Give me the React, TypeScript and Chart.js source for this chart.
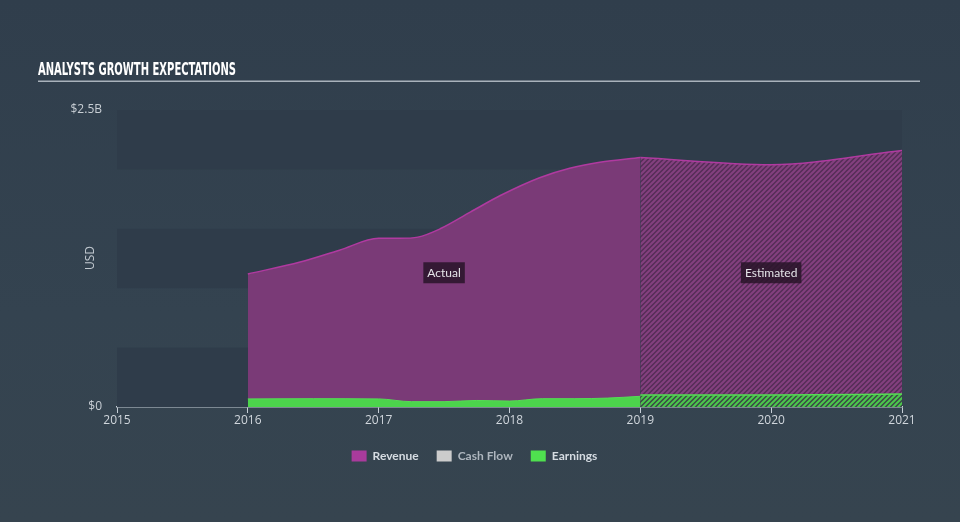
import React, { useEffect, useRef } from 'react';
import { Chart, registerables } from 'chart.js';

Chart.register(...registerables);

// ---- data (values in billions USD) ----
const revenueActualYears = [2016, 2016.4, 2016.7, 2017, 2017.16, 2017.3, 2017.47, 2017.7, 2017.93, 2018.23, 2018.46, 2018.69, 2019];
const revenueActual = [1.12, 1.22, 1.32, 1.42, 1.42, 1.43, 1.5, 1.64, 1.78, 1.93, 2.01, 2.06, 2.1];
const revenueEstYears = [2019, 2020, 2021];
const revenueEst = [2.1, 2.04, 2.16];

const earningsActualYears = [2016, 2016.5, 2017, 2017.25, 2017.5, 2017.75, 2018, 2018.25, 2018.5, 2018.75, 2019];
const earningsActual = [0.068, 0.07, 0.068, 0.045, 0.045, 0.055, 0.05, 0.07, 0.07, 0.075, 0.09];
const earningsEstYears = [2019, 2020, 2021];
const earningsEst = [0.1, 0.1, 0.11];

const xMin = 2015;
const xMax = 2021;
const yTickValues = [0, 2.5];
const yTickLabels = ['$0', '$2.5B'];
const legendLabels = ['Revenue', 'Cash Flow', 'Earnings'];
const legendColors = ['#a93b9c', '#cccccc', '#4fe04f'];
const legendTextColors = ['#d6dce2', '#aeb6be', '#d6dce2'];
const regionLabels = ['Actual', 'Estimated'];
const regionLabelX = [2017.5, 2020];
const regionLabelY = 1.13;
const titleText = 'ANALYSTS GROWTH EXPECTATIONS';
const yAxisTitle = 'USD';

const B = 1e9;
const pts = (xs: number[], ys: number[]) => xs.map((x, i) => ({ x, y: ys[i] * B }));

function makeHatch(base: string, stripe: string, size = 5, width = 2) {
  const c = document.createElement('canvas');
  c.width = size;
  c.height = size;
  const g = c.getContext('2d')!;
  g.fillStyle = base;
  g.fillRect(0, 0, size, size);
  g.strokeStyle = stripe;
  g.lineWidth = width;
  g.beginPath();
  g.moveTo(-1, size + 1);
  g.lineTo(size + 1, -1);
  g.moveTo(-1, 1);
  g.lineTo(1, -1);
  g.moveTo(size - 1, size + 1);
  g.lineTo(size + 1, size - 1);
  g.stroke();
  return g.createPattern(c, 'repeat')!;
}

const bandsPlugin = {
  id: 'bands',
  afterLayout(chart: any) {
    // centre the legend on the page rather than on the padded layout
    const lg = chart.legend;
    if (lg) {
      lg.left += 23.5;
      lg.right += 23.5;
    }
  },
  beforeDatasetsDraw(chart: any) {
    const { ctx, chartArea, scales } = chart;
    const y = scales.y;
    ctx.save();
    ctx.fillStyle = '#2f3c4a';
    for (let v = 0; v < 2.5; v += 1) {
      const top = y.getPixelForValue((v + 0.5) * B);
      const bot = y.getPixelForValue(v * B);
      ctx.fillRect(chartArea.left, top, chartArea.right - chartArea.left, bot - top);
    }
    ctx.restore();
  },
};

const overlayPlugin = {
  id: 'overlay',
  afterDatasetsDraw(chart: any) {
    const { ctx, scales } = chart;
    ctx.save();
    ctx.font = '12px "Lato"';
    ctx.textAlign = 'center';
    ctx.textBaseline = 'middle';
    regionLabels.forEach((t, i) => {
      const cx = scales.x.getPixelForValue(regionLabelX[i]);
      const cy = scales.y.getPixelForValue(regionLabelY * B);
      const w = ctx.measureText(t).width + 8;
      ctx.fillStyle = 'rgba(40,20,40,0.85)';
      ctx.fillRect(cx - w / 2, cy - 10.5, w, 21);
      ctx.fillStyle = '#e4e4e8';
      ctx.fillText(t, cx, cy + 0.5);
    });
    ctx.restore();
  },
  afterDraw(chart: any) {
    const { ctx } = chart;
    ctx.save();
    // title
    ctx.font = 'bold 18px "DejaVu Sans Condensed", "DejaVu Sans"';
    ctx.textAlign = 'left';
    ctx.textBaseline = 'alphabetic';
    const w = ctx.measureText(titleText).width;
    ctx.translate(38, 75);
    ctx.scale(198 / w, 1);
    ctx.fillStyle = '#ffffff';
    ctx.fillText(titleText, 0, 0);
    ctx.restore();
    ctx.save();
    ctx.fillStyle = '#a9b2bb';
    ctx.fillRect(38, 80.5, 882, 1.5);
    // y axis title
    ctx.translate(91, 258);
    ctx.rotate(-Math.PI / 2);
    ctx.font = '12px "Open Sans"';
    ctx.fillStyle = '#c3cad1';
    ctx.textAlign = 'center';
    ctx.textBaseline = 'middle';
    ctx.fillText(yAxisTitle, 0, 0);
    ctx.restore();
  },
};

export default function App() {
  const ref = useRef<HTMLCanvasElement>(null);
  useEffect(() => {
    const canvas = ref.current!;
    const revHatch = makeHatch('#552d57', '#84407f', 5, 2);
    const earnHatch = makeHatch('#3a4946', '#4cc84c', 5, 2);
    const chart = new Chart(canvas, {
      type: 'line',
      data: {
        datasets: [
          {
            label: 'Earnings actual',
            data: pts(earningsActualYears, earningsActual),
            borderColor: '#55dd55',
            borderWidth: 1,
            backgroundColor: '#4cd44c',
            fill: 'origin',
            pointRadius: 0,
            cubicInterpolationMode: 'monotone',
          },
          {
            label: 'Earnings estimated',
            data: pts(earningsEstYears, earningsEst),
            borderColor: '#55dd55',
            borderWidth: 1.5,
            backgroundColor: earnHatch,
            fill: 'origin',
            pointRadius: 0,
            cubicInterpolationMode: 'monotone',
          },
          {
            label: 'Revenue actual',
            data: pts(revenueActualYears, revenueActual),
            borderColor: '#b03aa0',
            borderWidth: 1.5,
            backgroundColor: '#7a3a77',
            fill: 'origin',
            pointRadius: 0,
            cubicInterpolationMode: 'monotone',
          },
          {
            label: 'Revenue estimated',
            data: pts(revenueEstYears, revenueEst),
            borderColor: '#b03aa0',
            borderWidth: 1.5,
            backgroundColor: revHatch,
            fill: 'origin',
            pointRadius: 0,
            cubicInterpolationMode: 'monotone',
          },
        ],
      },
      options: {
        animation: false,
        responsive: false,
        maintainAspectRatio: false,
        layout: { padding: { top: 110, right: 58, bottom: 50, left: 0 } },
        scales: {
          x: {
            type: 'linear',
            min: xMin,
            max: xMax,
            afterBuildTicks: (s: any) => {
              const t = [];
              for (let v = xMin; v <= xMax; v++) t.push({ value: v });
              s.ticks = t;
            },
            afterFit: (s: any) => {
              s.height = 25;
            },
            ticks: {
              color: '#d0d6dc',
              font: { size: 12, family: '"Open Sans"' },
              padding: 0,
              maxRotation: 0,
              callback: (v: any) => String(v),
            },
            grid: {
              display: true,
              drawOnChartArea: false,
              drawTicks: true,
              tickLength: 6,
              color: '#c6ced6',
              lineWidth: 1,
            },
            border: { display: true, color: '#c6ced6', width: 1.5 },
          },
          y: {
            type: 'linear',
            min: 0,
            max: 2.5 * B,
            afterBuildTicks: (s: any) => {
              s.ticks = yTickValues.map((v) => ({ value: v * B }));
            },
            afterFit: (s: any) => {
              s.width = 117;
            },
            ticks: {
              color: '#c8ced4',
              font: { size: 12, family: '"Open Sans"' },
              padding: 15,
              callback: (_v: any, i: number) => yTickLabels[i],
            },
            grid: { display: false, drawTicks: false },
            border: { display: false },
          },
        },
        plugins: {
          tooltip: { enabled: false },
          legend: {
            position: 'bottom',
            onClick: () => {},
            labels: {
              boxWidth: 15,
              boxHeight: 11,
              padding: 18,
              font: { size: 12, family: '"Lato"', weight: 'bold' },
              generateLabels: () =>
                legendLabels.map((text, i) => ({
                  text,
                  fillStyle: legendColors[i],
                  strokeStyle: legendColors[i],
                  lineWidth: 0,
                  hidden: false,
                  fontColor: legendTextColors[i],
                  datasetIndex: i,
                })),
            },
          },
        },
      },
      plugins: [bandsPlugin, overlayPlugin],
    } as any);
    return () => chart.destroy();
  }, []);
  return (
    <div
      style={{
        position: 'fixed',
        left: 0,
        top: 0,
        width: 960,
        height: 522,
        background: 'linear-gradient(180deg, #303e4c 0%, #344350 60%, #36444f 100%)',
      }}
    >
      <canvas ref={ref} width={960} height={522} style={{ display: 'block', width: 960, height: 522 }} />
    </div>
  );
}
